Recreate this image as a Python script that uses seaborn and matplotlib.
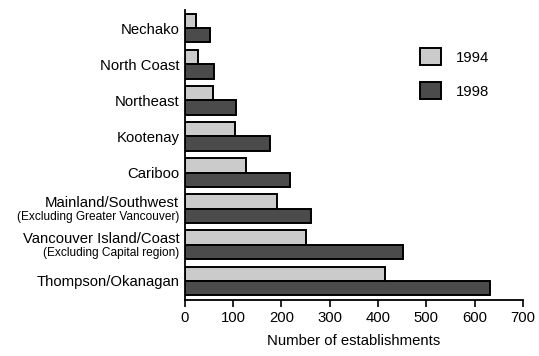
import numpy as np
import pandas as pd
import matplotlib
matplotlib.use("Agg")
import matplotlib.pyplot as plt
import matplotlib.transforms as mtransforms
import seaborn as sns

sns.set_style("white")
plt.rcParams['font.family'] = ['Liberation Sans', 'DejaVu Sans']
plt.rcParams['text.color'] = 'black'
plt.rcParams['xtick.color'] = 'black'
plt.rcParams['ytick.color'] = 'black'
plt.rcParams['axes.labelcolor'] = 'black'

regions = ["Nechako", "North Coast", "Northeast", "Kootenay", "Cariboo",
           "Mainland/Southwest", "Vancouver Island/Coast", "Thompson/Okanagan"]
subnotes = ["", "", "", "", "", "(Excluding Greater Vancouver)",
            "(Excluding Capital region)", ""]
vals_1994 = [24, 28, 59, 103, 127, 190, 251, 415]
vals_1998 = [52, 61, 106, 177, 218, 261, 452, 633]
years = ["1994", "1998"]

df = pd.DataFrame({
    "region": regions * 2,
    "year": [years[0]] * len(regions) + [years[1]] * len(regions),
    "count": vals_1994 + vals_1998,
})

fs = 10.7
fig = plt.figure(figsize=(5.39, 3.56), dpi=100)
ax = fig.add_axes([0.343, 0.157, 0.627, 0.815])

sns.barplot(data=df, y="region", x="count", hue="year", order=regions,
            palette=["#cbcbcb", "#4b4b4b"], edgecolor="black", linewidth=1.4,
            width=0.8, orient="h", ax=ax, legend=True)

ax.set_xlim(0, 700)
ax.set_ylim(len(regions) - 0.47, -0.5)
ax.set_xticks(np.arange(0, 701, 100))
ax.tick_params(axis="x", direction="out", length=5, width=1.2, labelsize=fs, pad=3,
               bottom=True)
ax.tick_params(axis="y", length=0, labelsize=fs, pad=4)
ax.set_xlabel("Number of establishments", fontsize=fs, labelpad=6)
ax.set_ylabel("")
for s in ["top", "right"]:
    ax.spines[s].set_visible(False)
for s in ["left", "bottom"]:
    ax.spines[s].set_linewidth(1.3)
    ax.spines[s].set_color("black")

# two-line labels with a smaller second line
labels = [r if not n else "" for r, n in zip(regions, subnotes)]
ax.set_yticks(range(len(regions)))
ax.set_yticklabels(labels)
trans = mtransforms.blended_transform_factory(ax.transAxes, ax.transData)
off = mtransforms.ScaledTranslation(-4 / 72, 0, fig.dpi_scale_trans)
for i, (r, n) in enumerate(zip(regions, subnotes)):
    if n:
        ax.text(0, i - 0.15, r, transform=trans + off, ha="right", va="center",
                fontsize=fs)
        ax.text(0, i + 0.22, n, transform=trans + off, ha="right", va="center",
                fontsize=8.6)

handles, lbls = ax.get_legend_handles_labels()
ax.legend(handles, lbls, loc="upper left", bbox_to_anchor=(420 / 539, 1 - 48 / 356),
          bbox_transform=fig.transFigure, frameon=False, fontsize=fs,
          handlelength=1.4, handleheight=1.4, handletextpad=1.0,
          labelspacing=1.15, borderpad=0, borderaxespad=0)

fig.savefig("out.png", dpi=100)
